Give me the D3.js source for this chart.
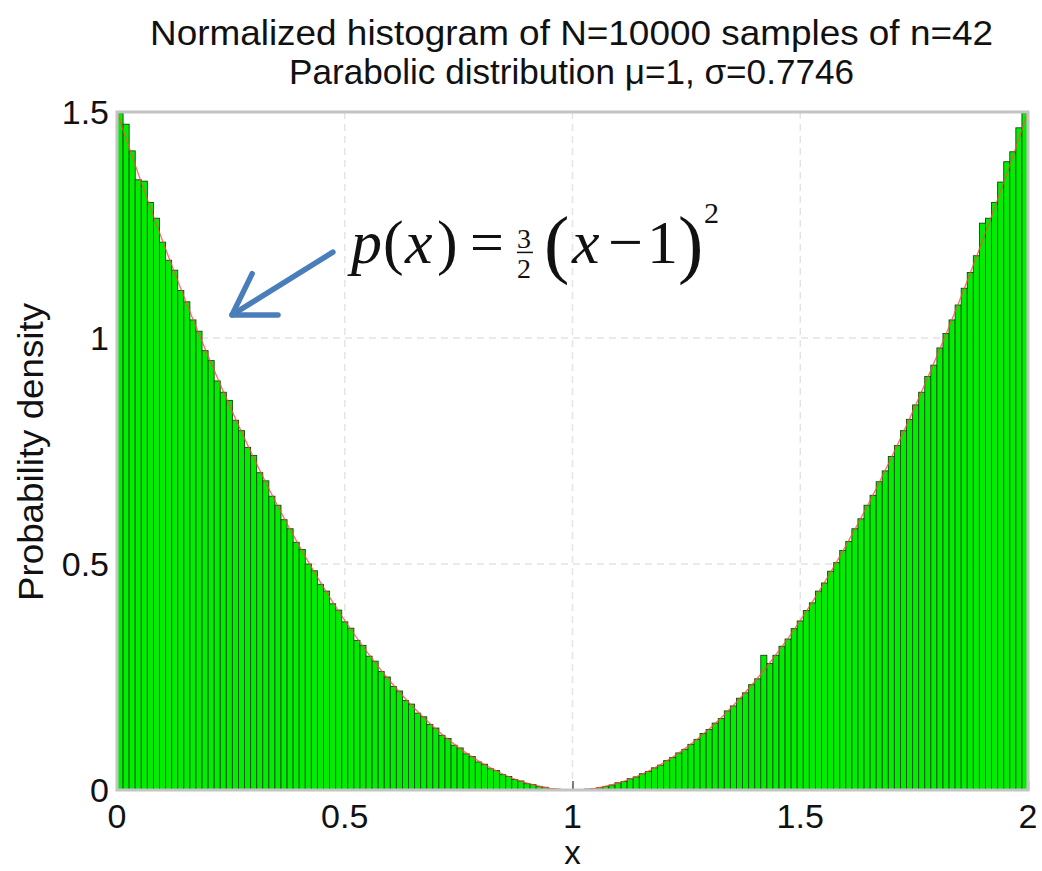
<!DOCTYPE html>
<html>
<head>
<meta charset="utf-8">
<script src="https://cdn.jsdelivr.net/npm/d3@7"></script>
<style>
  body { margin: 0; background: #fff; }
  svg { display: block; }
  text { font-family: "Liberation Sans", Arial, sans-serif; fill: #111; }
</style>
</head>
<body>
<svg id="vis" width="1042" height="871"></svg>
<script>
// histogram settings
const xDomain = [0, 2];
const yDomain = [0, 1.5];
const nBins = 150;

// bar heights (normalized density), left to right
const barValues = [
  1.498, 1.473, 1.414, 1.350, 1.347, 1.300, 1.265, 1.212, 1.172, 1.150,
  1.105, 1.080, 1.040, 1.015, 0.972, 0.950, 0.905, 0.880, 0.862, 0.818,
  0.795, 0.758, 0.740, 0.702, 0.684, 0.650, 0.630, 0.598, 0.578, 0.548,
  0.532, 0.500, 0.485, 0.455, 0.440, 0.412, 0.398, 0.372, 0.358, 0.331,
  0.320, 0.296, 0.285, 0.262, 0.250, 0.229, 0.219, 0.198, 0.190, 0.170,
  0.162, 0.145, 0.137, 0.121, 0.114, 0.099, 0.093, 0.080, 0.074, 0.062,
  0.057, 0.047, 0.043, 0.034, 0.030, 0.023, 0.020, 0.014, 0.012, 0.008,
  0.006, 0.003, 0.002, 0.0007, 0.0002,
  0.0002, 0.0008, 0.002, 0.003, 0.005, 0.008, 0.011, 0.016, 0.019, 0.025,
  0.029, 0.036, 0.041, 0.049, 0.055, 0.065, 0.072, 0.082, 0.090, 0.101,
  0.112, 0.125, 0.134, 0.148, 0.158, 0.175, 0.186, 0.203, 0.215, 0.233,
  0.246, 0.298, 0.280, 0.298, 0.318, 0.334, 0.357, 0.374, 0.397, 0.414,
  0.440, 0.458, 0.484, 0.503, 0.530, 0.550, 0.578, 0.600, 0.630, 0.652,
  0.682, 0.706, 0.738, 0.762, 0.795, 0.820, 0.852, 0.880, 0.915, 0.940,
  0.978, 1.010, 1.040, 1.073, 1.110, 1.145, 1.182, 1.254, 1.265, 1.300,
  1.345, 1.390, 1.412, 1.465, 1.498
];

// theoretical pdf (red line), sampled points
const curveX = [0, 0.05, 0.1, 0.15, 0.2, 0.25, 0.3, 0.35, 0.4, 0.45, 0.5,
  0.55, 0.6, 0.65, 0.7, 0.75, 0.8, 0.85, 0.9, 0.95, 1,
  1.05, 1.1, 1.15, 1.2, 1.25, 1.3, 1.35, 1.4, 1.45, 1.5,
  1.55, 1.6, 1.65, 1.7, 1.75, 1.8, 1.85, 1.9, 1.95, 2];
const curveY = [1.5, 1.35375, 1.215, 1.08375, 0.96, 0.84375, 0.735, 0.63375, 0.54, 0.45375, 0.375,
  0.30375, 0.24, 0.18375, 0.135, 0.09375, 0.06, 0.03375, 0.015, 0.00375, 0,
  0.00375, 0.015, 0.03375, 0.06, 0.09375, 0.135, 0.18375, 0.24, 0.30375, 0.375,
  0.45375, 0.54, 0.63375, 0.735, 0.84375, 0.96, 1.08375, 1.215, 1.35375, 1.5];

const xTicks = [0, 0.5, 1, 1.5, 2];
const xTickLabels = ["0", "0.5", "1", "1.5", "2"];
const yTicks = [0, 0.5, 1, 1.5];
const yTickLabels = ["0", "0.5", "1", "1.5"];

const titleLines = ["Normalized histogram of N=10000 samples of n=42",
                    "Parabolic distribution \u03bc=1, \u03c3=0.7746"];

// annotation anchors in data units
const arrowTail = [0.474, 1.19];
const arrowTip = [0.2525, 1.051];
const formulaAt = [0.518, 1.165];

const margin = {top: 112, right: 14, bottom: 81, left: 117},
  width = 1042 - margin.left - margin.right,
  height = 871 - margin.top - margin.bottom;

const svg = d3.select("#vis");
const g = svg.append("g")
  .attr("transform", `translate(${margin.left},${margin.top})`);

const x = d3.scaleLinear().domain(xDomain).range([0, width]);
const y = d3.scaleLinear().domain(yDomain).range([height, 0]);

// grid
g.append("g")
  .selectAll("line")
  .data(xTicks.slice(1, -1))
  .join("line")
    .attr("x1", d => x(d)).attr("x2", d => x(d))
    .attr("y1", 0).attr("y2", height)
    .attr("stroke", "#e4e4e4")
    .attr("stroke-width", 1.5)
    .attr("stroke-dasharray", "7,5");
g.append("g")
  .selectAll("line")
  .data(yTicks.slice(1, -1))
  .join("line")
    .attr("x1", 0).attr("x2", width)
    .attr("y1", d => y(d)).attr("y2", d => y(d))
    .attr("stroke", "#e4e4e4")
    .attr("stroke-width", 1.5)
    .attr("stroke-dasharray", "7,5");

// inward ticks (under the bars)
g.append("g")
  .attr("transform", `translate(0,${height})`)
  .call(d3.axisBottom(x).tickValues(xTicks).tickSize(-9).tickFormat(""))
  .call(a => a.select(".domain").remove())
  .call(a => a.selectAll("line").attr("stroke", "#555").attr("stroke-width", 1.5));

// bars
const binW = (xDomain[1] - xDomain[0]) / nBins;
g.append("g")
  .selectAll("rect")
  .data(barValues)
  .join("rect")
    .attr("x", (d, i) => x(xDomain[0] + i * binW))
    .attr("y", d => y(d))
    .attr("width", x(binW) - x(0))
    .attr("height", d => y(0) - y(d))
    .attr("fill", "#00ee00")
    .attr("stroke", "#0d4a0d")
    .attr("stroke-width", 0.9);

// pdf line
const line = d3.line()
  .x((d, i) => x(curveX[i]))
  .y(d => y(d))
  .curve(d3.curveCatmullRom.alpha(0.5));
g.append("path")
  .attr("d", line(curveY))
  .attr("fill", "none")
  .attr("stroke", "#ff4a4a")
  .attr("stroke-opacity", 0.8)
  .attr("stroke-width", 1.3);

// axes box
g.append("rect")
  .attr("x", 0).attr("y", 0)
  .attr("width", width).attr("height", height)
  .attr("fill", "none")
  .attr("stroke", "#c4c4c4")
  .attr("stroke-width", 3);

// tick labels
g.append("g")
  .selectAll("text")
  .data(xTicks)
  .join("text")
    .attr("x", d => x(d))
    .attr("y", height + 38)
    .attr("text-anchor", "middle")
    .style("font-size", "34px")
    .text((d, i) => xTickLabels[i]);
g.append("g")
  .selectAll("text")
  .data(yTicks)
  .join("text")
    .attr("x", -8)
    .attr("y", d => y(d) + 12)
    .attr("text-anchor", "end")
    .style("font-size", "34px")
    .text((d, i) => yTickLabels[i]);

// axis labels
svg.append("text")
  .attr("x", margin.left + width / 2)
  .attr("y", 864)
  .attr("text-anchor", "middle")
  .style("font-size", "33px")
  .text("x");
svg.append("text")
  .attr("transform", `translate(43,${margin.top + height / 2 + 1}) rotate(-90)`)
  .attr("text-anchor", "middle")
  .attr("textLength", 298)
  .attr("lengthAdjust", "spacingAndGlyphs")
  .style("font-size", "35px")
  .text("Probability density");

// title
const titleX = margin.left + width / 2 - 1;
svg.append("text")
  .attr("x", titleX).attr("y", 45)
  .attr("text-anchor", "middle")
  .attr("textLength", 843)
  .attr("lengthAdjust", "spacingAndGlyphs")
  .style("font-size", "35px")
  .text(titleLines[0]);
svg.append("text")
  .attr("x", titleX).attr("y", 84)
  .attr("text-anchor", "middle")
  .attr("textLength", 565)
  .attr("lengthAdjust", "spacingAndGlyphs")
  .style("font-size", "35px")
  .text(titleLines[1]);

// arrow annotation
const tip = [x(arrowTip[0]), y(arrowTip[1])];
const tail = [x(arrowTail[0]), y(arrowTail[1])];
const ang = Math.atan2(tail[1] - tip[1], tail[0] - tip[0]);
const barb = 46, spread = 0.56;
const arrow = g.append("g")
  .attr("stroke", "#4a7ebb")
  .attr("stroke-width", 5.5)
  .attr("stroke-linecap", "round")
  .attr("stroke-linejoin", "round")
  .attr("fill", "none");
arrow.append("line")
  .attr("x1", tail[0]).attr("y1", tail[1])
  .attr("x2", tip[0]).attr("y2", tip[1]);
arrow.append("path")
  .attr("d", `M${tip[0] + barb * Math.cos(ang - spread)},${tip[1] + barb * Math.sin(ang - spread)}
              L${tip[0]},${tip[1]}
              L${tip[0] + barb * Math.cos(ang + spread)},${tip[1] + barb * Math.sin(ang + spread)}`);

// formula p(x) = 3/2 (x-1)^2
const fx = x(formulaAt[0]), fy = y(formulaAt[1]);
const f = g.append("g")
  .attr("transform", `translate(${fx},${fy})`);
const serif = (t, dx, dy, size, italic) => f.append("text")
  .attr("x", dx).attr("y", dy)
  .style("font-size", size + "px")
  .style("font-style", italic ? "italic" : "normal")
  .style("font-family", "'Liberation Serif', 'Times New Roman', serif")
  .text(t);
serif("p", -2, 0, 62, true);
serif("(", 30, 0, 62, false);
serif("x", 52, 0, 62, true);
serif(")", 84, 0, 62, false);
serif("=", 117, -1, 60, false);
serif("3", 164, -15, 28, false);
f.append("line")
  .attr("x1", 164).attr("x2", 180)
  .attr("y1", -11).attr("y2", -11)
  .attr("stroke", "#111").attr("stroke-width", 1.5);
serif("2", 164, 15, 28, false);
serif("(", 191, 6, 76, false);
serif("x", 219, 0, 62, true);
serif("\u2212", 255, 0, 62, false);
serif("1", 294, 0, 62, false);
serif(")", 325, 6, 76, false);
serif("2", 351, -40, 30, false);
</script>
</body>
</html>
